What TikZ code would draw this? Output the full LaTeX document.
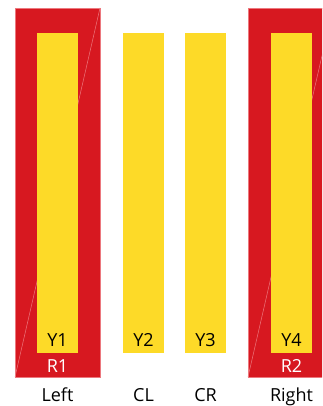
\documentclass[tikz,border=0pt]{standalone}
\usepackage{fontspec}
\setmainfont{Open Sans}
\definecolor{rd}{RGB}{215,24,32}
\definecolor{yl}{RGB}{253,218,40}
\definecolor{edge}{RGB}{236,120,126}
\begin{document}
\begin{tikzpicture}[x=1pt,y=-1pt,
  redbox/.style={fill=rd,draw=edge,line width=0.5pt,inner sep=0pt,outer sep=0pt,minimum width=85pt,minimum height=369pt},
  ybox/.style={fill=yl,draw=none,inner sep=0pt,outer sep=0pt,minimum width=41pt,minimum height=320pt},
  diag/.style={draw=edge,line width=0.5pt},
  lbl/.style={font=\fontsize{18}{20}\selectfont,anchor=base,inner sep=0pt,text=black}]
\useasboundingbox (0,0) rectangle (322,406);
\begin{scope}
\clip (0,0) rectangle (322,406);
\node[redbox] (R1) at (57.5,192.5) {};
\node[redbox] (R2) at (290.5,192.5) {};
\draw[diag] (R1.south west) -- (R1.north east);
\draw[diag] (R2.south west) -- (R2.north east);
\end{scope}
\node[ybox] (Y1) at (57.5,193) {};
\node[ybox] (Y2) at (143.5,193) {};
\node[ybox] (Y3) at (205.5,193) {};
\node[ybox] (Y4) at (291.5,193) {};
\node[lbl] (tY1) at (57.5,346) {Y1};
\node[lbl] (tY2) at (143.5,346) {Y2};
\node[lbl] (tY3) at (205.5,346) {Y3};
\node[lbl] (tY4) at (291.5,346) {Y4};
\node[lbl,text=white] (tR1) at (57.5,372.5) {R1};
\node[lbl,text=white] (tR2) at (291.5,372.5) {R2};
\node[lbl] (tL) at (57.5,401) {Left};
\node[lbl] (tCL) at (143.5,401) {CL};
\node[lbl] (tCR) at (205.5,401) {CR};
\node[lbl] (tR) at (291.5,401) {Right};
\end{tikzpicture}
\end{document}
